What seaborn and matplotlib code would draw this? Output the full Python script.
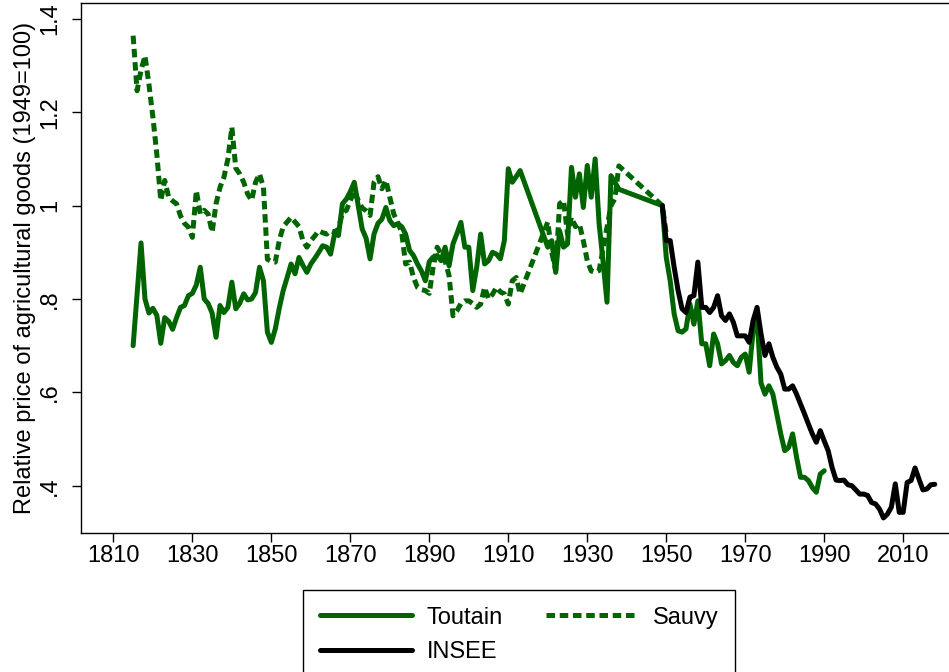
import matplotlib
matplotlib.use("Agg")
import matplotlib.pyplot as plt
import seaborn as sns
import pandas as pd

# Toutain series (annual, gaps for WWI and WWII are simply joined)
toutain_years = list(range(1815, 1914)) + list(range(1920, 1939)) + list(range(1949, 1991))
toutain_values = [
    0.70, 0.81, 0.92, 0.80, 0.77, 0.78, 0.765, 0.705, 0.76, 0.752,
    0.735, 0.76, 0.782, 0.786, 0.807, 0.812, 0.83, 0.868, 0.80, 0.79,
    0.77, 0.718, 0.786, 0.771, 0.782, 0.836, 0.779, 0.791, 0.811, 0.798,
    0.80, 0.814, 0.868, 0.839, 0.729, 0.707, 0.736, 0.78, 0.818, 0.846,
    0.875, 0.854, 0.889, 0.872, 0.857, 0.875, 0.887, 0.90, 0.914, 0.911,
    0.896, 0.939, 0.936, 1.004, 1.014, 1.03, 1.05, 1.00, 0.95, 0.93,
    0.886, 0.939, 0.962, 0.971, 0.996, 0.968, 0.957, 0.961, 0.955, 0.939,
    0.904, 0.893, 0.875, 0.86, 0.839, 0.88, 0.89, 0.893, 0.882, 0.911,
    0.871, 0.918, 0.94, 0.964, 0.911, 0.911, 0.818, 0.868, 0.939, 0.875,
    0.882, 0.90, 0.896, 0.886, 0.925, 1.079, 1.05, 1.062, 1.075,
    # 1920-1938
    0.911, 0.925, 0.857, 0.946, 0.911, 0.918, 1.082, 1.018, 1.068, 0.996,
    1.086, 1.018, 1.10, 0.961, 0.88, 0.793, 1.064, 1.05, 1.035,
    # 1949-1990
    1.0, 0.889, 0.839, 0.768, 0.732, 0.729, 0.736, 0.789, 0.746, 0.796,
    0.704, 0.704, 0.657, 0.725, 0.704, 0.661, 0.668, 0.679, 0.664, 0.657,
    0.675, 0.682, 0.643, 0.732, 0.76, 0.62, 0.596, 0.614, 0.596, 0.554,
    0.511, 0.475, 0.482, 0.511, 0.461, 0.418, 0.418, 0.411, 0.396, 0.386,
    0.425, 0.432,
]

# Sauvy series
sauvy_years = list(range(1815, 1914)) + list(range(1920, 1934)) + [1936, 1937, 1938, 1949, 1950]
sauvy_values = [
    1.364, 1.246, 1.29, 1.321, 1.26, 1.19, 1.11, 1.011, 1.054, 1.018,
    1.01, 1.004, 0.978, 0.962, 0.954, 0.932, 1.032, 0.982, 0.99, 0.982,
    0.943, 1.004, 1.039, 1.061, 1.10, 1.168, 1.08, 1.068, 1.05, 1.025,
    1.011, 1.05, 1.068, 1.039, 0.885, 0.88, 0.879, 0.925, 0.955, 0.965,
    0.975, 0.965, 0.955, 0.925, 0.911, 0.925, 0.935, 0.946, 0.942, 0.939,
    0.946, 0.943, 0.95, 0.985, 0.99, 1.011, 1.032, 1.011, 0.995, 0.989,
    0.979, 1.05, 1.062, 1.036, 1.054, 1.018, 0.982, 0.964, 0.943, 0.875,
    0.879, 0.846, 0.825, 0.82, 0.818, 0.812, 0.87, 0.911, 0.896, 0.882,
    0.85, 0.764, 0.775, 0.79, 0.796, 0.796, 0.79, 0.782, 0.789, 0.825,
    0.80, 0.81, 0.825, 0.815, 0.811, 0.789, 0.839, 0.846, 0.811,
    # 1920-1933
    0.965, 0.90, 0.861, 1.004, 1.011, 0.939, 0.975, 0.955, 0.961, 0.925,
    0.882, 0.86, 0.857, 0.861,
    # 1936-1938, 1949-1950
    1.0, 1.015, 1.085, 1.0, 0.94,
]

# INSEE series
insee_years = list(range(1949, 2019))
insee_values = [
    1.0, 0.925, 0.925, 0.868, 0.818, 0.779, 0.771, 0.804, 0.807, 0.879,
    0.782, 0.782, 0.771, 0.782, 0.807, 0.764, 0.754, 0.768, 0.75, 0.721,
    0.721, 0.721, 0.707, 0.754, 0.782, 0.725, 0.679, 0.704, 0.675, 0.654,
    0.639, 0.607, 0.607, 0.614, 0.596, 0.575, 0.554, 0.532, 0.511, 0.493,
    0.518, 0.496, 0.475, 0.439, 0.412, 0.411, 0.412, 0.402, 0.40, 0.391,
    0.382, 0.382, 0.379, 0.364, 0.361, 0.35, 0.331, 0.339, 0.354, 0.404,
    0.343, 0.343, 0.407, 0.411, 0.438, 0.414, 0.391, 0.393, 0.402, 0.403,
]

x_ticks = [1810, 1830, 1850, 1870, 1890, 1910, 1930, 1950, 1970, 1990, 2010]
y_ticks = [0.4, 0.6, 0.8, 1.0, 1.2, 1.4]
y_tick_labels = ['.4', '.6', '.8', '1', '1.2', '1.4']

green = '#006400'
lw = 3.6

sns.set_theme(style='ticks')
plt.rcParams['font.family'] = ['Liberation Sans', 'DejaVu Sans']
plt.rcParams['text.color'] = 'black'
plt.rcParams['axes.labelcolor'] = 'black'
plt.rcParams['xtick.color'] = 'black'
plt.rcParams['ytick.color'] = 'black'

fig = plt.figure(figsize=(9.49, 6.72), dpi=100)
ax = fig.add_axes([81 / 949, 1 - 533 / 672, 1 - 81 / 949, (533 - 3) / 672])

toutain = pd.DataFrame({'year': toutain_years, 'value': toutain_values})
sauvy = pd.DataFrame({'year': sauvy_years, 'value': sauvy_values})
insee = pd.DataFrame({'year': insee_years, 'value': insee_values})

sns.lineplot(data=toutain, x='year', y='value', color=green, lw=lw,
             estimator=None, sort=False, ax=ax, label='Toutain')
sns.lineplot(data=sauvy, x='year', y='value', color=green, lw=lw,
             linestyle=(0, (1.7, 0.95)), estimator=None, sort=False, ax=ax, label='Sauvy')
sns.lineplot(data=insee, x='year', y='value', color='black', lw=lw,
             estimator=None, sort=False, ax=ax, label='INSEE')

ax.set_xlim(1801.8, 2021.6)
ax.set_ylim(0.2987, 1.434)
ax.set_xticks(x_ticks)
ax.set_xticklabels([str(t) for t in x_ticks], fontsize=17)
ax.set_yticks(y_ticks)
ax.set_yticklabels(y_tick_labels, fontsize=17, rotation=90, va='center')
ax.tick_params(axis='both', direction='out', length=6.5, width=1, color='black', labelcolor='black')
ax.tick_params(axis='x', pad=2)
ax.tick_params(axis='y', pad=8)
ax.set_xlabel('')
ax.set_ylabel('Relative price of agricultural goods (1949=100)', fontsize=17, labelpad=2, color='black')

for side in ['left', 'top', 'bottom']:
    ax.spines[side].set_color('black')
    ax.spines[side].set_linewidth(1)
ax.spines['right'].set_visible(False)

handles, labels = ax.get_legend_handles_labels()
ax.get_legend().remove()
order = [labels.index('Toutain'), labels.index('INSEE'), labels.index('Sauvy')]
leg = fig.legend([handles[i] for i in order], [labels[i] for i in order],
                 loc='upper left', bbox_to_anchor=(303 / 949, 1 - 590 / 672),
                 bbox_transform=fig.transFigure, ncol=2, fontsize=17,
                 handlelength=3.9, handletextpad=0.65, columnspacing=1.8,
                 labelspacing=0.52, borderpad=0.7, borderaxespad=0,
                 fancybox=False, framealpha=1, edgecolor='black', labelcolor='black')
leg.get_frame().set_linewidth(1)

fig.savefig('out.png', dpi=100)
